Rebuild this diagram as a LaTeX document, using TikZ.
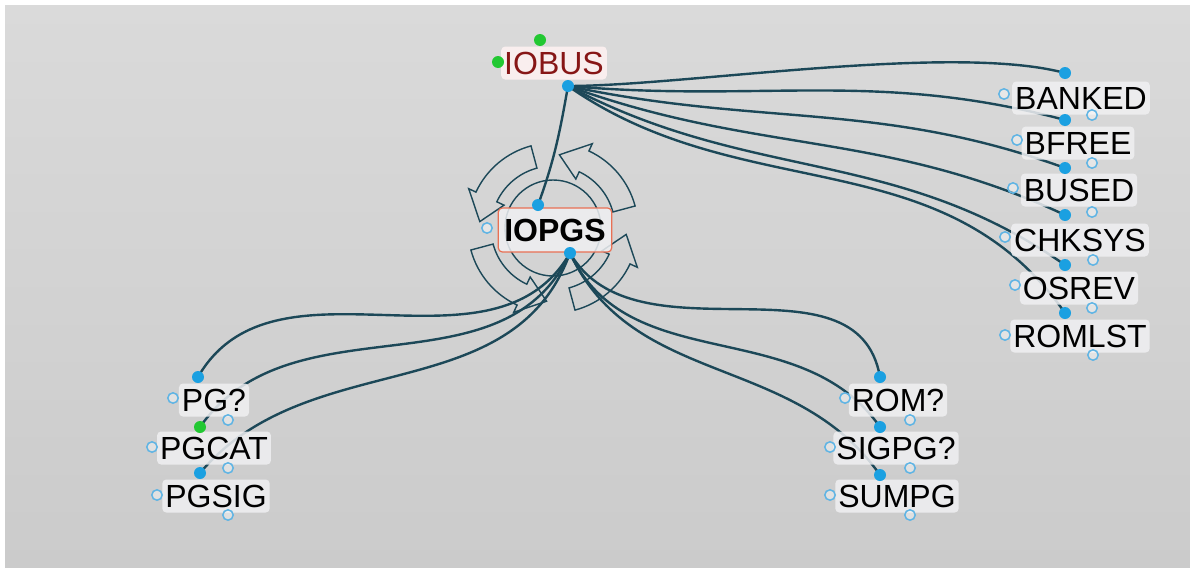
\documentclass[tikz,border=0pt]{standalone}
\usepackage{fontspec}
\setmainfont{Liberation Sans}
\usepackage{xcolor}
\definecolor{bgtop}{RGB}{218,218,218}
\definecolor{bgbot}{RGB}{203,203,203}
\definecolor{linkteal}{RGB}{28,72,88}
\definecolor{portblue}{RGB}{27,160,225}
\definecolor{hollowblue}{RGB}{95,180,228}
\definecolor{portgreen}{RGB}{34,200,50}
\definecolor{boxgray}{RGB}{240,240,242}
\definecolor{busred}{RGB}{135,22,22}
\definecolor{hubedge}{RGB}{232,112,84}
\usepackage{tikz}
\usetikzlibrary{positioning,backgrounds}

\tikzset{
  fn/.style={rounded corners=2pt, fill=boxgray, fill opacity=0.85, text opacity=1,
    inner xsep=1.5pt, inner ysep=0pt, minimum height=16.5pt, font=\fontsize{16}{18}\selectfont},
  link/.style={draw=linkteal, line width=1.2pt},
  ring/.style={draw=linkteal, line width=0.7pt},
  port/.style={circle, fill=portblue, inner sep=0pt, minimum size=6pt},
  gport/.style={port, fill=portgreen},
  hollow/.style={circle, draw=hollowblue, fill=white, fill opacity=0.4, line width=0.75pt,
    inner sep=0pt, minimum size=5.2pt},
}

\begin{document}
\begin{tikzpicture}[x=0.5pt, y=0.5pt]
\useasboundingbox (0,0) rectangle (1190,-568);

% callers
\node[fn, text=busred, fill=white!95!red] (iobus) at (554,-63) {IOBUS};
\node[fn, draw=hubedge, line width=0.6pt, minimum height=22pt, inner xsep=3pt,
  font=\fontsize{16}{18}\selectfont\bfseries] (iopgs) at (555,-230) {IOPGS};

% called by IOBUS
\node[fn] (banked) at (1081,-98) {BANKED};
\node[fn] (bfree) at (1078,-143) {BFREE};
\node[fn] (bused) at (1079,-190) {BUSED};
\node[fn] (chksys) at (1080,-240) {CHKSYS};
\node[fn] (osrev) at (1079,-288) {OSREV};
\node[fn] (romlst) at (1080,-336) {ROMLST};

% called by IOPGS
\node[fn] (pgq) at (214,-400) {PG?};
\node[fn] (pgcat) at (214,-448) {PGCAT};
\node[fn] (pgsig) at (216,-496) {PGSIG};
\node[fn] (romq) at (898,-400) {ROM?};
\node[fn] (sigpgq) at (896,-448) {SIGPG?};
\node[fn] (sumpg) at (897,-496) {SUMPG};

% ports
\node[port] (iobus-out) at (568,-86) {};
\node[gport] (iobus-g1) at (498,-62) {};
\node[gport] (iobus-g2) at (540,-40) {};
\node[port] (iopgs-in) at (538,-205) {};
\node[port] (iopgs-out) at (570,-253) {};
\node[hollow] (iopgs-l) at (487,-228) {};

\node[port] (banked-in) at (1065,-73) {};
\node[hollow] (banked-l) at (1004,-94) {};
\node[hollow] (banked-r) at (1092,-115) {};
\node[port] (bfree-in) at (1065,-120) {};
\node[hollow] (bfree-l) at (1017,-140) {};
\node[hollow] (bfree-r) at (1092,-163) {};
\node[port] (bused-in) at (1065,-168) {};
\node[hollow] (bused-l) at (1013,-188) {};
\node[hollow] (bused-r) at (1092,-212) {};
\node[port] (chksys-in) at (1065,-215) {};
\node[hollow] (chksys-l) at (1005,-237) {};
\node[hollow] (chksys-r) at (1093,-260) {};
\node[port] (osrev-in) at (1065,-265) {};
\node[hollow] (osrev-l) at (1015,-285) {};
\node[hollow] (osrev-r) at (1092,-308) {};
\node[port] (romlst-in) at (1065,-313) {};
\node[hollow] (romlst-l) at (1005,-335) {};
\node[hollow] (romlst-r) at (1093,-355) {};

\node[port] (pgq-in) at (198,-377) {};
\node[hollow] (pgq-l) at (173,-398) {};
\node[hollow] (pgq-r) at (228,-420) {};
\node[gport] (pgcat-in) at (200,-427) {};
\node[hollow] (pgcat-l) at (152,-447) {};
\node[hollow] (pgcat-r) at (228,-468) {};
\node[port] (pgsig-in) at (200,-473) {};
\node[hollow] (pgsig-l) at (157,-495) {};
\node[hollow] (pgsig-r) at (228,-515) {};

\node[port] (romq-in) at (880,-377) {};
\node[hollow] (romq-l) at (845,-398) {};
\node[hollow] (romq-r) at (910,-420) {};
\node[port] (sigpgq-in) at (880,-427) {};
\node[hollow] (sigpgq-l) at (830,-447) {};
\node[hollow] (sigpgq-r) at (910,-468) {};
\node[port] (sumpg-in) at (880,-475) {};
\node[hollow] (sumpg-l) at (830,-495) {};
\node[hollow] (sumpg-r) at (910,-515) {};

\begin{scope}[on background layer]
\fill[white] (0,0) rectangle (1190,-568);
\shade[top color=bgtop, bottom color=bgbot] (5,-5) rectangle (1190,-568);

% recursion mark round IOPGS
\begin{scope}[shift={(553,-228)}]
\draw[ring] (0,0) circle[radius=48];
\foreach \a in {15,105,195,285}
  \draw[ring] (\a:62) arc[start angle=\a, end angle=\a+50, radius=62]
    -- (\a+50:54) -- (\a+70:73.5) -- (\a+50:93) -- (\a+50:85)
    arc[start angle=\a+50, end angle=\a, radius=85] -- cycle;
\end{scope}

% calls
\draw[link] (iobus-out.center) to[out=0, in=165, looseness=0.6] (banked-in.center);
\draw[link] (iobus-out.center) to[out=-5, in=165] (bfree-in.center);
\draw[link] (iobus-out.center) to[out=-12, in=160] (bused-in.center);
\draw[link] (iobus-out.center) to[out=-20, in=155] (chksys-in.center);
\draw[link] (iobus-out.center) to[out=-28, in=145] (osrev-in.center);
\draw[link] (iobus-out.center) to[out=-35, in=125] (romlst-in.center);
\draw[link] (iobus-out.center) to[out=-100, in=70] (iopgs-in.center);

\draw[link] (iopgs-out.center) to[out=-120, in=60] (pgq-in.center);
\draw[link] (iopgs-out.center) to[out=-115, in=55] (pgcat-in.center);
\draw[link] (iopgs-out.center) to[out=-110, in=50] (pgsig-in.center);
\draw[link] (iopgs-out.center) to[out=-60, in=100] (romq-in.center);
\draw[link] (iopgs-out.center) to[out=-65, in=125] (sigpgq-in.center);
\draw[link] (iopgs-out.center) to[out=-65, in=125] (sumpg-in.center);
\end{scope}
\end{tikzpicture}
\end{document}
